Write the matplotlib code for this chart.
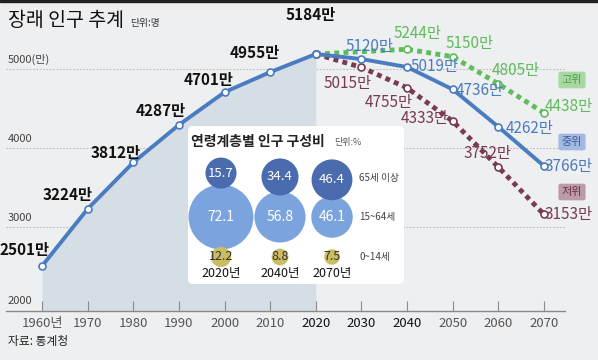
import numpy as np
import matplotlib
matplotlib.use("Agg")
import matplotlib.pyplot as plt
from matplotlib.patches import FancyBboxPatch, Circle, Rectangle

plt.rcParams['font.family'] = ['Liberation Sans Narrow', 'Noto Sans CJK KR', 'DejaVu Sans']
KR = ['Noto Sans CJK KR', 'DejaVu Sans']

# data (단위: 만 명)
hist_years = [1960, 1970, 1980, 1990, 2000, 2010, 2020]
hist_pop = [2501, 3224, 3812, 4287, 4701, 4955, 5184]

mid_years = [2020, 2030, 2040, 2050, 2060, 2070]
mid_pop = [5184, 5120, 5019, 4736, 4262, 3766]

high_years = [2020, 2040, 2050, 2060, 2070]
high_pop = [5184, 5244, 5150, 4805, 4438]

low_years = [2020, 2030, 2040, 2050, 2060, 2070]
low_pop = [5184, 5015, 4755, 4333, 3752, 3153]

xtick_years = list(range(1960, 2071, 10))
xtick_labels = ['1960년'] + [str(y) for y in xtick_years[1:]]
ygrid = [3000, 4000, 5000]
ylabels = ['3000', '4000', '5000(만)']

# 연령계층별 인구 구성비 (%)
comp_years = ['2020년', '2040년', '2070년']
age_65 = [15.7, 34.4, 46.4]
age_15_64 = [72.1, 56.8, 46.1]
age_0_14 = [12.2, 8.8, 7.5]
age_names = ['65세 이상', '15~64세', '0~14세']

BG = '#eeeff1'
SHADE = '#d5dee5'
BLUE = '#4a7cc2'
GREEN = '#5dbd5a'
MAROON = '#7a3a55'

W, H = 598, 360
fig = plt.figure(figsize=(W / 100, H / 100), dpi=100, facecolor=BG)


def fx(x):
    return x / W


def fy(y):
    return 1 - y / H


# top dark strip
fig.patches.append(Rectangle((0, fy(2)), 1, 2 / H, transform=fig.transFigure,
                             color='#222222', zorder=0))

ax = fig.add_axes([fx(6), fy(311), fx(565 - 6), (311 - 30) / H])
ax.set_facecolor(BG)
ax.set_xlim(1952.1, 2074.6)
ax.set_ylim(1931, 5488)
for s in ['top', 'right', 'left']:
    ax.spines[s].set_visible(False)
ax.spines['bottom'].set_color('#8a8a8a')
ax.spines['bottom'].set_linewidth(1.0)
ax.set_yticks([])
ax.set_xticks(xtick_years)
ax.set_xticklabels(xtick_labels, fontsize=9.5)
ax.tick_params(axis='x', direction='in', length=7, color='#8a8a8a', pad=4)
for lbl, yr in zip(ax.get_xticklabels(), xtick_years):
    lbl.set_color('#111111' if 2020 <= yr <= 2040 else '#555555')

# grid lines and y labels
for g, t in zip(ygrid, ylabels):
    ax.axhline(g, color='#bdbdbd', lw=0.8, ls=(0, (1.5, 1.5)), zorder=1)
    ax.annotate(t, (0, g), xycoords=('axes fraction', 'data'), xytext=(2, 4),
                textcoords='offset pixels', ha='left', va='bottom',
                fontsize=8, color='#444444')
ax.annotate('2000', (0, 2000), xycoords=('axes fraction', 'data'), xytext=(2, 0),
            textcoords='offset pixels', ha='left', va='bottom',
            fontsize=8, color='#444444')

# shaded past area
ax.fill_between(hist_years, hist_pop, 1931, color=SHADE, zorder=1, lw=0)

mk = dict(marker='o', markersize=5, markerfacecolor='white', markeredgewidth=1.2)
ax.plot(high_years, high_pop, color=GREEN, lw=3.5, ls=(0, (1, 0.9)),
        markeredgecolor=GREEN, zorder=4, **mk)
ax.plot(low_years, low_pop, color=MAROON, lw=3.5, ls=(0, (1, 0.9)),
        markeredgecolor=MAROON, zorder=4, **mk)
ax.plot(mid_years, mid_pop, color=BLUE, lw=2.8, markeredgecolor=BLUE, zorder=5, **mk)
ax.plot(hist_years, hist_pop, color=BLUE, lw=2.8, markeredgecolor=BLUE, zorder=5, **mk)

hist_off = [(-18, 16), (-20, 14), (-18, 9), (-18, 14), (-16, 12), (-15, 19), (-5, 39)]
mid_off = [(8, 13), (27, 1), (27, -1), (31, -2), (25, 0)]
low_off = [(-14, -16), (-18, -15), (-28, 3), (-11, 14), (25, 0)]
high_off = [(10, 16), (17, 13), (17, 13), (25, 6)]


def put(years, vals, offs, color, weight):
    for yr, v, o in zip(years, vals, offs):
        ax.annotate(f'{v}만', (yr, v), xytext=o, textcoords='offset pixels',
                    ha='center', va='center', fontsize=11, color=color,
                    fontweight=weight, zorder=6, annotation_clip=False)


put(hist_years, hist_pop, hist_off, '#111111', 'bold')
put(mid_years[1:], mid_pop[1:], mid_off, BLUE, 'normal')
put(low_years[1:], low_pop[1:], low_off, MAROON, 'normal')
put(high_years[1:], high_pop[1:], high_off, GREEN, 'normal')

# scenario tags
for txt, y, fc, tc in [('고위', 80, '#a9d9a2', '#4c9a48'),
                       ('중위', 142, '#a3b9e2', '#3d5e9c'),
                       ('저위', 192, '#bb9ba8', '#6a2f47')]:
    fig.text(fx(572), fy(y), txt, ha='center', va='center', fontsize=8,
             family=KR, color=tc,
             bbox=dict(boxstyle='round,pad=0.3,rounding_size=0.2', fc=fc, ec='none'))

# title & source
fig.text(fx(8), fy(21), '장래 인구 추계', fontsize=14, family=KR, fontweight='medium',
         va='center', ha='left', color='#111111')
fig.text(fx(130), fy(23), '단위:명', fontsize=7, family=KR, va='center', ha='left',
         color='#333333')
fig.text(fx(8), fy(341), '자료: 통계청', fontsize=8.5, family=KR, va='center', ha='left',
         color='#222222')

# inset: 연령계층별 인구 구성비
ix0, iy0, iw, ih = 187, 125, 218, 160
axi = fig.add_axes([fx(ix0), fy(iy0 + ih), iw / W, ih / H])
axi.set_xlim(0, iw)
axi.set_ylim(ih, 0)
axi.axis('off')
axi.set_zorder(7)
axi.add_patch(FancyBboxPatch((1, 1), iw - 2, ih - 2,
                             boxstyle='round,pad=0,rounding_size=5',
                             fc='white', ec='none'))
axi.text(4, 17, '연령계층별 인구 구성비', fontsize=10, family=KR, fontweight='bold',
         ha='left', va='center', color='#222222')
axi.text(147, 17, '단위:%', fontsize=6.5, family=KR, ha='left', va='center',
         color='#555555')

col_x = [34, 93, 145]
mid_y, low_y = 92, 132


def rad_top(v):
    return 13 + 0.16 * v


def rad_mid(v):
    return 0.45 * v


def rad_low(v):
    return 4 + 0.5 * v


for i, cx in enumerate(col_x):
    r_mid = rad_mid(age_15_64[i])
    r_top = rad_top(age_65[i])
    top_y = mid_y - r_mid - r_top + 4
    axi.add_patch(Circle((cx, top_y), r_top, fc='#4a6caf', ec='none', zorder=3))
    axi.add_patch(Circle((cx, mid_y), r_mid, fc='#7ba4de', ec='none', zorder=2))
    axi.add_patch(Circle((cx, low_y), rad_low(age_0_14[i]), fc='#cbbe62', ec='none', zorder=2))
    axi.text(cx, top_y, f'{age_65[i]}', color='white', fontsize=9.5,
             ha='center', va='center', zorder=4)
    axi.text(cx, mid_y, f'{age_15_64[i]}', color='white', fontsize=10,
             ha='center', va='center', zorder=4)
    axi.text(cx, low_y, f'{age_0_14[i]}', color='#333333', fontsize=9,
             ha='center', va='center', zorder=4)
    axi.text(cx, 149, comp_years[i], color='#111111', fontsize=9,
             ha='center', va='center', zorder=4)

for name, y in zip(age_names, [53, mid_y, low_y]):
    axi.text(172, y, name, fontsize=7, family=KR, color='#444444',
             ha='left', va='center')

fig.savefig('out.png', dpi=100, facecolor=BG)
